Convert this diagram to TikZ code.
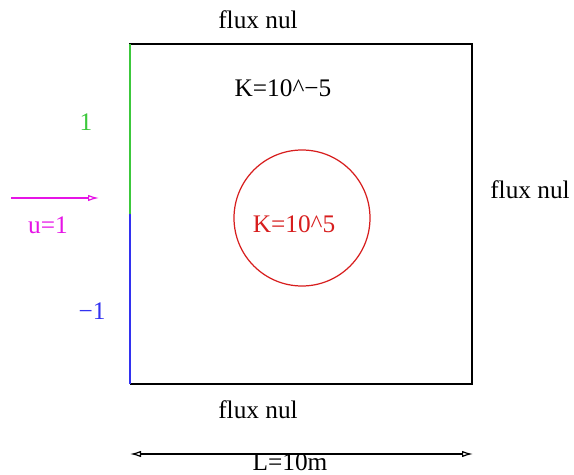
\documentclass[tikz,border=0pt]{standalone}
\usepackage{fontspec}
\setmainfont{Liberation Serif}
\usetikzlibrary{arrows.meta,positioning,calc}
\definecolor{fluxgreen}{RGB}{60,200,60}
\definecolor{fluxblue}{RGB}{50,50,240}
\definecolor{fluxmag}{RGB}{230,20,230}
\definecolor{fluxred}{RGB}{215,30,30}
\tikzset{lbl/.style={font=\fontsize{14.4}{17}\selectfont,inner sep=1pt},
  bord/.style={line width=0.9pt},
  tip/.style={-{Latex[open,length=2.2mm,width=1.3mm]},line width=0.7pt}}
\begin{document}
\begin{tikzpicture}[x=0.02cm,y=-0.02cm]
\useasboundingbox (0,0) rectangle (574,475);
\coordinate (nw) at (130,44);
\coordinate (ne) at (472,44);
\coordinate (se) at (472,384);
\coordinate (sw) at (130,384);
\coordinate (mid) at (130,214);
\draw[bord] (mid)--(nw)--(ne)--(se)--(sw);
\draw[bord,fluxgreen] (nw)--(mid);
\draw[bord,fluxblue] (mid)--(sw);
\node[draw=fluxred,circle,line width=0.7pt,minimum size=136*0.02cm] (hole) at (302,218) {};
\node[lbl,fluxred] (kin) at (294,224) {K=10\^{}5};
\node[lbl] (kout) at (283,88) {K=10\^{}−5};
\node[lbl] (ftop) at (258,20) {flux nul};
\node[lbl] (fright) at (530,190) {flux nul};
\node[lbl] (fbot) at (258,410) {flux nul};
\node[lbl,fluxgreen] (one) at (86,122) {1};
\node[lbl,fluxblue] (mone) at (92,311) {−1};
% vitesse entrante
\coordinate (u0) at (11,198);
\coordinate (u1) at (99,198);
\draw[tip,fluxmag] (u0)--(u1);
\node[lbl,fluxmag] (vel) at (48,225) {u=1};
% longueur
\coordinate (l0) at (130,454);
\coordinate (l1) at (473,454);
\draw[tip,{Latex[open,length=2.2mm,width=1.3mm]}-{Latex[open,length=2.2mm,width=1.3mm]}] (l0)--(l1);
\node[lbl] (len) at (290,462) {L=10m};
\end{tikzpicture}
\end{document}
